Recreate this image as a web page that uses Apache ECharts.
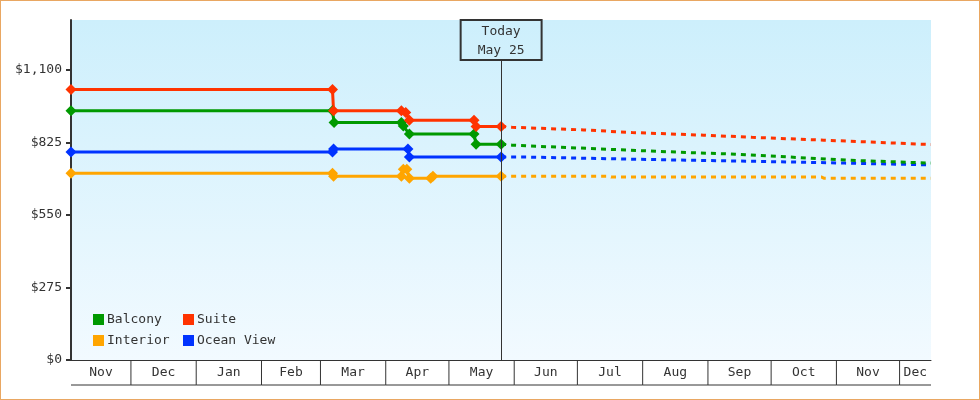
<!DOCTYPE html>
<html>
<head>
<meta charset="utf-8">
<title>Cabin prices</title>
<script src="https://cdn.jsdelivr.net/npm/echarts@6/dist/echarts.min.js"></script>
<style>
    html, body { margin: 0; padding: 0; background: #fff; }
    #wrap { position: relative; width: 980px; height: 400px; }
    #main { width: 980px; height: 400px; }
    #frame {
        position: absolute; left: 0; top: 0; width: 980px; height: 400px;
        box-sizing: border-box; border: 1px solid #e9a762; pointer-events: none;
    }
</style>
</head>
<body>
<div id="wrap">
    <div id="main"></div>
    <div id="frame"></div>
</div>
<script>
'use strict';

// axis range and month bands
var axisStart = '2024-11-02T13:00';
var axisEnd = '2025-12-15T22:00';
var monthStarts = ['2024-11-01', '2024-12-01', '2025-01-01', '2025-02-01', '2025-03-01', '2025-04-01',
    '2025-05-01', '2025-06-01', '2025-07-01', '2025-08-01', '2025-09-01', '2025-10-01', '2025-11-01', '2025-12-01'];
var monthLabels = ['Nov', 'Dec', 'Jan', 'Feb', 'Mar', 'Apr', 'May', 'Jun', 'Jul', 'Aug', 'Sep', 'Oct', 'Nov', 'Dec'];
var yTicks = [0, 275, 550, 825, 1100];
var yMax = 1290;

var today = '2025-05-25T19:00';
var todayLabel = ['Today', 'May 25'];

// price history (solid)
var balcony = [['2024-11-02T13:00', 946], ['2025-03-06T17:00', 946], ['2025-03-07T11:00', 901],
    ['2025-04-08T10:00', 901], ['2025-04-09T08:00', 888], ['2025-04-12T05:00', 857],
    ['2025-05-12T22:00', 857], ['2025-05-13T21:00', 819], ['2025-05-25T19:00', 819]];
var suite = [['2024-11-02T13:00', 1026], ['2025-03-06T17:00', 1026], ['2025-03-07T05:00', 946],
    ['2025-04-08T10:00', 946], ['2025-04-10T12:00', 939], ['2025-04-12T05:00', 910],
    ['2025-05-12T22:00', 910], ['2025-05-13T21:00', 886], ['2025-05-25T19:00', 886]];
var interior = [['2024-11-02T13:00', 709], ['2025-03-06T17:00', 709], ['2025-03-07T05:00', 697],
    ['2025-04-08T10:00', 697], ['2025-04-09T08:00', 724], ['2025-04-11T00:00', 724],
    ['2025-04-12T05:00', 690], ['2025-04-22T08:00', 690], ['2025-04-23T10:00', 697],
    ['2025-05-25T19:00', 697]];
var oceanView = [['2024-11-02T13:00', 789], ['2025-03-06T17:00', 789], ['2025-03-07T05:00', 801],
    ['2025-04-11T13:00', 801], ['2025-04-12T05:00', 770], ['2025-05-25T19:00', 770]];

// forecast (dashed)
var balconyFc = [['2025-05-25T19:00', 819], ['2025-05-31', 815], ['2025-07-26', 796], ['2025-08-23', 787],
    ['2025-09-14', 781], ['2025-11-07', 758], ['2025-12-15T22:00', 747]];
var suiteFc = [['2025-05-25T19:00', 886], ['2025-05-31', 883], ['2025-07-04', 873], ['2025-07-27', 863],
    ['2025-08-30', 853], ['2025-09-22', 845], ['2025-10-26', 834], ['2025-11-17', 827],
    ['2025-12-11', 819], ['2025-12-15T22:00', 818]];
var interiorFc = [['2025-05-25T19:00', 697], ['2025-07-16', 697], ['2025-07-17', 694],
    ['2025-10-25', 694], ['2025-10-26', 690], ['2025-12-15T22:00', 690]];
var oceanViewFc = [['2025-05-25T19:00', 770], ['2025-06-07', 770], ['2025-07-02', 766], ['2025-07-27', 762],
    ['2025-08-22', 758], ['2025-09-15', 755], ['2025-10-12', 751], ['2025-11-05', 747],
    ['2025-11-30', 743], ['2025-12-15T22:00', 740]];

var colors = {
    'Balcony': '#009900',
    'Suite': '#ff3300',
    'Interior': '#ffa500',
    'Ocean View': '#0033ff'
};

var FONT = '"DejaVu Sans Mono", "Liberation Mono", monospace';

init();

function init() {
    var myChart = echarts.init(document.getElementById('main'));
    myChart.setOption(buildOption());
}

// month bands below the plot: [start, end, 0]
function buildMonthBands() {
    var minT = echarts.time.parse(axisStart).getTime();
    var maxT = echarts.time.parse(axisEnd).getTime();
    var bands = [];
    for (var i = 0; i < monthStarts.length; i++) {
        var s = echarts.time.parse(monthStarts[i]).getTime();
        var e = i + 1 < monthStarts.length ? echarts.time.parse(monthStarts[i + 1]).getTime() : maxT;
        bands.push([Math.max(s, minT), Math.min(e, maxT), 0]);
    }
    return bands;
}

function renderMonth(params, api) {
    var p0 = api.coord([api.value(0), 0]);
    var p1 = api.coord([api.value(1), 0]);
    var y0 = p0[1];
    var children = [{
        type: 'line',
        shape: { x1: p0[0], y1: y0 + 25, x2: p1[0], y2: y0 + 25 },
        style: { stroke: '#333', lineWidth: 1 }
    }, {
        type: 'text',
        x: (p0[0] + p1[0]) / 2,
        y: y0 + 13,
        style: {
            text: monthLabels[params.dataIndex],
            align: 'center',
            verticalAlign: 'middle',
            fill: '#333',
            font: '13px ' + FONT
        }
    }];
    if (params.dataIndex > 0) {
        children.push({
            type: 'line',
            shape: { x1: p0[0], y1: y0, x2: p0[0], y2: y0 + 25 },
            style: { stroke: '#333', lineWidth: 1 }
        });
    }
    return { type: 'group', children: children };
}

function solidSeries(name, data) {
    return {
        name: name,
        type: 'line',
        data: data,
        color: colors[name],
        symbol: 'diamond',
        symbolSize: 11,
        showSymbol: true,
        lineStyle: { width: 3, color: colors[name] },
        itemStyle: { color: colors[name] },
        emphasis: { disabled: true }
    };
}

function forecastSeries(name, data) {
    return {
        name: name,
        type: 'line',
        data: data,
        color: colors[name],
        showSymbol: false,
        symbol: 'none',
        lineStyle: { width: 3, color: colors[name], type: [5, 5] },
        emphasis: { disabled: true }
    };
}

// one legend column
function legendAt(names, left) {
    return {
        data: names,
        orient: 'vertical',
        left: left,
        top: 313,
        padding: 0,
        icon: 'rect',
        itemWidth: 11,
        itemHeight: 11,
        itemGap: 8,
        textStyle: { color: '#333', fontFamily: FONT, fontSize: 13, padding: [0, 0, 0, -2] }
    };
}

function buildOption() {
    var series = [
        forecastSeries('Interior', interiorFc),
        forecastSeries('Ocean View', oceanViewFc),
        forecastSeries('Balcony', balconyFc),
        forecastSeries('Suite', suiteFc),
        solidSeries('Interior', interior),
        solidSeries('Ocean View', oceanView),
        solidSeries('Balcony', balcony),
        solidSeries('Suite', suite)
    ];

    // "Today" marker
    series[0].markLine = {
        silent: true,
        symbol: ['none', 'none'],
        lineStyle: { color: '#333', width: 1, type: 'solid' },
        label: {
            show: true,
            position: 'end',
            distance: 0,
            formatter: todayLabel.join('\n'),
            color: '#333',
            fontFamily: FONT,
            fontSize: 13,
            lineHeight: 19,
            padding: [2, 17, 0, 17],
            borderColor: '#333',
            borderWidth: 1,
            backgroundColor: 'transparent'
        },
        data: [[{ coord: [today, 0] }, { coord: [today, 1138] }]]
    };

    // month bands under the x axis
    series.push({
        type: 'custom',
        silent: true,
        clip: false,
        renderItem: renderMonth,
        encode: { x: [0, 1], y: 2 },
        data: buildMonthBands(),
        z: 10
    });

    return {
        animation: false,
        backgroundColor: '#fff',
        legend: [
            legendAt(['Balcony', 'Interior'], 93),
            legendAt(['Suite', 'Ocean View'], 183)
        ],
        grid: {
            left: 71,
            top: 20,
            right: 49,
            bottom: 40,
            show: true,
            borderWidth: 0,
            backgroundColor: new echarts.graphic.LinearGradient(0, 0, 0, 1, [
                { offset: 0, color: '#cdeffc' },
                { offset: 1, color: '#f2faff' }
            ])
        },
        xAxis: {
            type: 'time',
            min: axisStart,
            max: axisEnd,
            axisLine: { show: true, lineStyle: { color: '#333', width: 1 } },
            axisTick: { show: false },
            axisLabel: { show: false },
            splitLine: { show: false }
        },
        yAxis: {
            type: 'value',
            min: 0,
            max: yMax,
            axisLine: { show: true, lineStyle: { color: '#333', width: 2 } },
            axisTick: { show: true, length: 5, customValues: yTicks, lineStyle: { color: '#333', width: 2 } },
            axisLabel: {
                customValues: yTicks,
                margin: 9,
                color: '#333',
                fontFamily: FONT,
                fontSize: 13,
                formatter: function(v) {
                    return '$' + v.toLocaleString('en-US');
                }
            },
            splitLine: { show: false }
        },
        series: series
    };
}
</script>
</body>
</html>
